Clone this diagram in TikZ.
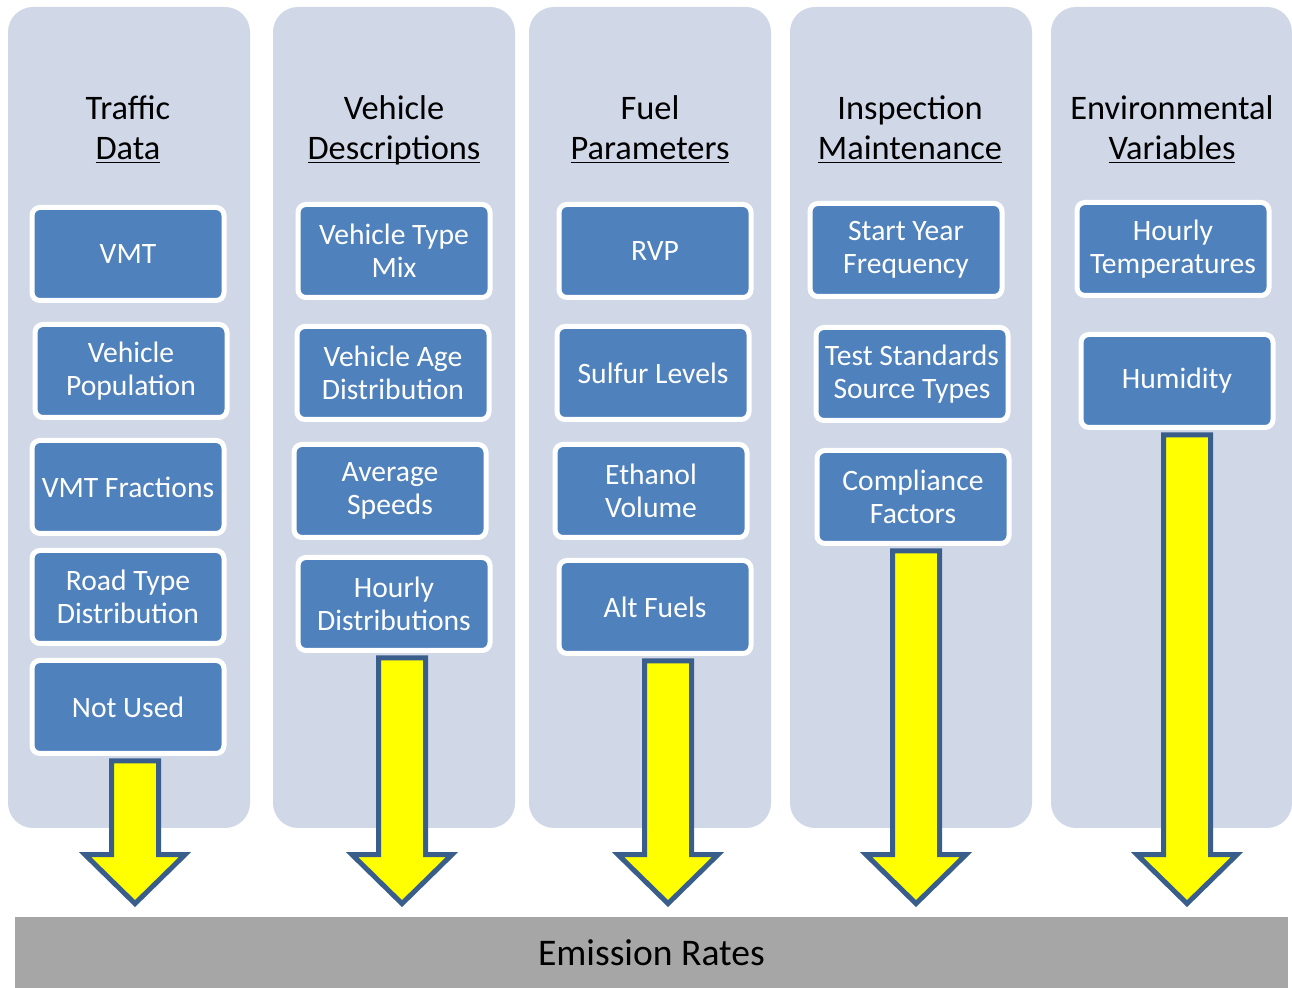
\documentclass[tikz,border=0pt]{standalone}
\usepackage{fontspec}
\setmainfont{Carlito}
\usepackage{xcolor}
\usepackage{tikz}
\usetikzlibrary{calc}

\definecolor{panelblue}{HTML}{D0D8E8}
\definecolor{paramblue}{HTML}{4F81BD}
\definecolor{arrowedge}{HTML}{3A5E8C}
\definecolor{arrowfill}{HTML}{FFFF00}
\definecolor{bargray}{HTML}{A6A6A6}

% underlined second line of a heading, rule at a fixed depth
\newcommand{\ttlline}[1]{\underline{\smash{#1}\vphantom{A}}\strut}

\tikzset{
  panel/.style={fill=panelblue, rounded corners=12.5pt},
  heading/.style={align=center, font=\fontsize{17.2}{20}\selectfont},
  param/.style={draw=white, line width=2.5pt, fill=paramblue, text=white,
    rounded corners=4pt, minimum width=96pt, minimum height=46.5pt,
    align=center, inner sep=1pt, font=\fontsize{14.8}{16.5}\selectfont},
  bar/.style={fill=bargray, minimum width=636.5pt, minimum height=35.5pt,
    inner sep=0pt, font=\fontsize{18.8}{22}\selectfont},
  feed/.style={draw=arrowedge, line width=2.5pt, fill=arrowfill, line join=miter},
}

% block arrow: x of shaft, source node, target node
\newcommand{\feedarrow}[3]{%
  \draw[feed] ($(#1,0 |- #2.south)+(-23.5,5)$)
    -- ($(#1,0 |- #3.north)+(-23.5,-62)$)
    -- ($(#1,0 |- #3.north)+(-50,-62)$)
    -- ($(#1,0 |- #3.north)+(0,-13)$)
    -- ($(#1,0 |- #3.north)+(50,-62)$)
    -- ($(#1,0 |- #3.north)+(23.5,-62)$)
    -- ($(#1,0 |- #2.south)+(23.5,5)$) -- cycle;}

\begin{document}
\begin{tikzpicture}[x=0.5pt,y=-0.5pt]
\useasboundingbox (0,0) rectangle (1292,988);

% columns
\fill[panel] (8,7) rectangle (250,828);
\fill[panel] (273,7) rectangle (515,828);
\fill[panel] (529,7) rectangle (771,828);
\fill[panel] (790,7) rectangle (1032,828);
\fill[panel] (1051,7) rectangle (1292,828);

\node[heading] (trafficttl) at (128,134) {Traffic\\\ttlline{Data}};
\node[heading] (vehiclettl) at (394,134) {Vehicle\\\ttlline{Descriptions}};
\node[heading] (fuelttl) at (650,134) {Fuel\\\ttlline{Parameters}};
\node[heading] (imttl) at (910,134) {Inspection\\\ttlline{Maintenance}};
\node[heading] (envttl) at (1172,134) {Environmental\\\ttlline{Variables}};

% traffic data
\node[param] (vmt) at (128,254) {VMT};
\node[param] (vehpop) at (131,371) {Vehicle\\Population};
\node[param] (vmtfrac) at (128,487) {VMT Fractions};
\node[param] (roadtype) at (128,597) {Road Type\\Distribution};
\node[param] (notused) at (128,707) {Not Used};

% vehicle descriptions
\node[param] (vehtype) at (394,251) {Vehicle Type\\Mix};
\node[param] (vehage) at (393,373) {Vehicle Age\\Distribution};
\node[param] (avgspeed) at (390,491) {Average\\Speeds};
\node[param] (hourlydist) at (394,604) {Hourly\\Distributions};

% fuel parameters
\node[param] (rvp) at (655,251) {RVP};
\node[param] (sulfur) at (653,373) {Sulfur Levels};
\node[param] (ethanol) at (651,491) {Ethanol\\Volume};
\node[param] (altfuel) at (655,607) {Alt Fuels};

% inspection maintenance
\node[param] (startyear) at (906,250) {Start Year\\Frequency};
\node[param] (teststd) at (912,374) {Test Standards\\Source Types};
\node[param] (compliance) at (913,497) {Compliance\\Factors};

% environmental variables
\node[param] (hourlytemp) at (1173,249) {Hourly\\Temperatures};
\node[param] (humidity) at (1177,381) {Humidity};

\node[bar] (rates) at (651.5,952.5) {Emission Rates};

\feedarrow{135}{notused}{rates}
\feedarrow{402}{hourlydist}{rates}
\feedarrow{668}{altfuel}{rates}
\feedarrow{916}{compliance}{rates}
\feedarrow{1187}{humidity}{rates}
\end{tikzpicture}
\end{document}
